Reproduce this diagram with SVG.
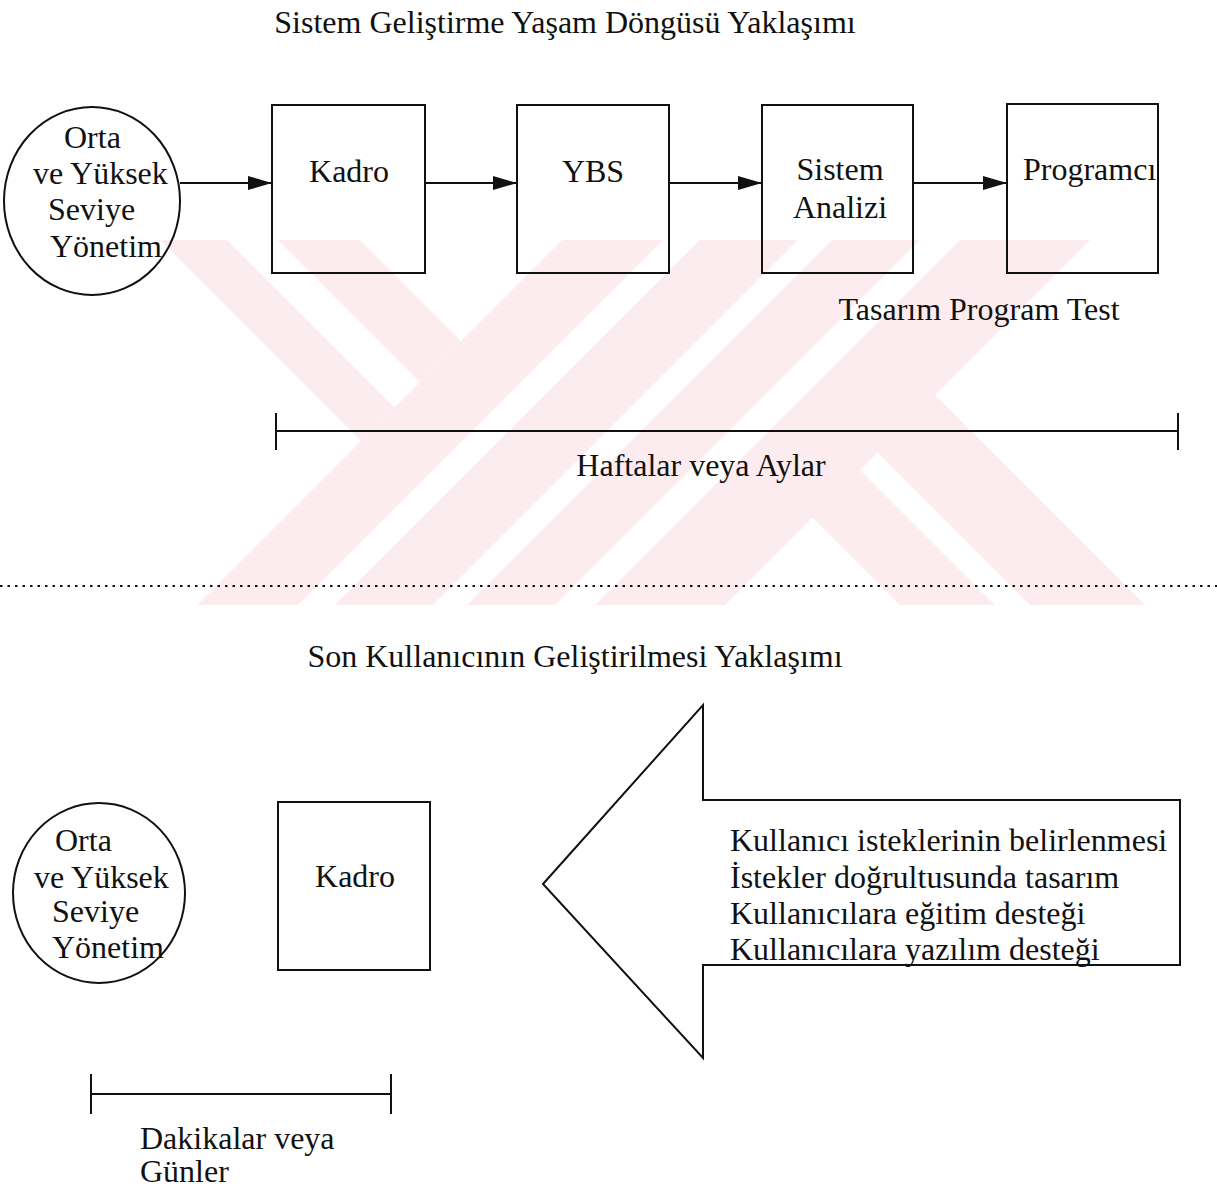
<svg xmlns="http://www.w3.org/2000/svg" width="1217" height="1190" viewBox="0 0 1217 1190">
  <defs>
    <style>
      .txt { font-family: "Liberation Serif", "Times New Roman", serif; font-size: 32px; fill: #111; }
      .mid { text-anchor: middle; }
      .shape { fill: none; stroke: #111; stroke-width: 2; }
      .conn { fill: none; stroke: #111; stroke-width: 2; }
      .wm { fill: #fdecef; stroke: none; }
    </style>
    <marker id="arrowhead" markerUnits="userSpaceOnUse" markerWidth="24" markerHeight="14" refX="24" refY="7" orient="auto">
      <path d="M0,0 L24,7 L0,14 z" fill="#111"/>
    </marker>
  </defs>

  <rect x="0" y="0" width="1217" height="1190" fill="#ffffff"/>

  <!-- pale background emblem made of diagonal bands -->
  <g id="watermark">
    <polygon class="wm" points="160,240 227,240 394.5,407.5 361,441"/>
    <polygon class="wm" points="278,240 360,240 461,341 420,382"/>
    <polygon class="wm" points="562,240 663,240 298,605 197,605"/>
    <polygon class="wm" points="700,240 798,240 433,605 335,605"/>
    <polygon class="wm" points="832,240 920,240 555,605 467,605"/>
    <polygon class="wm" points="960,240 1090,240 725,605 595,605"/>
    <polygon class="wm" points="807.5,512.5 855,465 995,605 900,605"/>
    <polygon class="wm" points="872.5,447.5 930,390 1145,605 1030,605"/>
  </g>

  <!-- upper section: system development life cycle -->
  <g id="title-top">
    <text class="txt mid" x="565" y="33">Sistem Geliştirme Yaşam Döngüsü Yaklaşımı</text>
  </g>

  <g id="node-management-top">
    <ellipse class="shape" cx="92" cy="201" rx="88" ry="94"/>
    <text class="txt" x="64" y="148">Orta</text>
    <text class="txt" x="33" y="184">ve Yüksek</text>
    <text class="txt" x="48" y="220">Seviye</text>
    <text class="txt" x="50" y="257">Yönetim</text>
  </g>

  <g id="node-kadro-top">
    <rect class="shape" x="272" y="105" width="153" height="168"/>
    <text class="txt mid" x="349" y="182">Kadro</text>
  </g>

  <g id="node-ybs">
    <rect class="shape" x="517" y="105" width="152" height="168"/>
    <text class="txt mid" x="593" y="182">YBS</text>
  </g>

  <g id="node-sistem-analizi">
    <rect class="shape" x="762" y="105" width="151" height="168"/>
    <text class="txt mid" x="840" y="180">Sistem</text>
    <text class="txt mid" x="840" y="218">Analizi</text>
  </g>

  <g id="node-programci">
    <rect class="shape" x="1007" y="104" width="151" height="169"/>
    <text class="txt" x="1023" y="180">Programcı</text>
  </g>

  <g id="label-phases">
    <text class="txt mid" x="979" y="320">Tasarım Program Test</text>
  </g>

  <g id="timeline-top">
    <line class="conn" x1="276" y1="431" x2="1178" y2="431"/>
    <line class="conn" x1="276" y1="413" x2="276" y2="450"/>
    <line class="conn" x1="1178" y1="413" x2="1178" y2="450"/>
    <text class="txt mid" x="701" y="476">Haftalar veya Aylar</text>
  </g>

  <g id="connectors">
    <line class="conn" x1="180" y1="183" x2="272" y2="183" marker-end="url(#arrowhead)"/>
    <line class="conn" x1="425" y1="183" x2="517" y2="183" marker-end="url(#arrowhead)"/>
    <line class="conn" x1="669" y1="183" x2="762" y2="183" marker-end="url(#arrowhead)"/>
    <line class="conn" x1="913" y1="183" x2="1007" y2="183" marker-end="url(#arrowhead)"/>
  </g>

  <!-- section divider -->
  <g id="divider">
    <line x1="0" y1="586" x2="1217" y2="586" stroke="#111" stroke-width="2" stroke-dasharray="2.5 5"/>
  </g>

  <!-- lower section: end-user development -->
  <g id="title-bottom">
    <text class="txt mid" x="575" y="667">Son Kullanıcının Geliştirilmesi Yaklaşımı</text>
  </g>

  <g id="node-management-bottom">
    <ellipse class="shape" cx="99" cy="893" rx="86" ry="90"/>
    <text class="txt" x="55" y="851">Orta</text>
    <text class="txt" x="34" y="888">ve Yüksek</text>
    <text class="txt" x="52" y="922">Seviye</text>
    <text class="txt" x="52" y="958">Yönetim</text>
  </g>

  <g id="node-kadro-bottom">
    <rect class="shape" x="278" y="802" width="152" height="168"/>
    <text class="txt mid" x="355" y="887">Kadro</text>
  </g>

  <g id="node-big-arrow">
    <polygon class="shape" points="543,884 703,705 703,800 1180,800 1180,965 703,965 703,1058"/>
    <text class="txt" x="730" y="851">Kullanıcı isteklerinin belirlenmesi</text>
    <text class="txt" x="730" y="888">İstekler doğrultusunda tasarım</text>
    <text class="txt" x="730" y="924">Kullanıcılara eğitim desteği</text>
    <text class="txt" x="730" y="960">Kullanıcılara yazılım desteği</text>
  </g>

  <g id="timeline-bottom">
    <line class="conn" x1="91" y1="1094" x2="391" y2="1094"/>
    <line class="conn" x1="91" y1="1074" x2="91" y2="1114"/>
    <line class="conn" x1="391" y1="1074" x2="391" y2="1114"/>
    <text class="txt" x="140" y="1149">Dakikalar veya</text>
    <text class="txt" x="140" y="1182">Günler</text>
  </g>
</svg>
